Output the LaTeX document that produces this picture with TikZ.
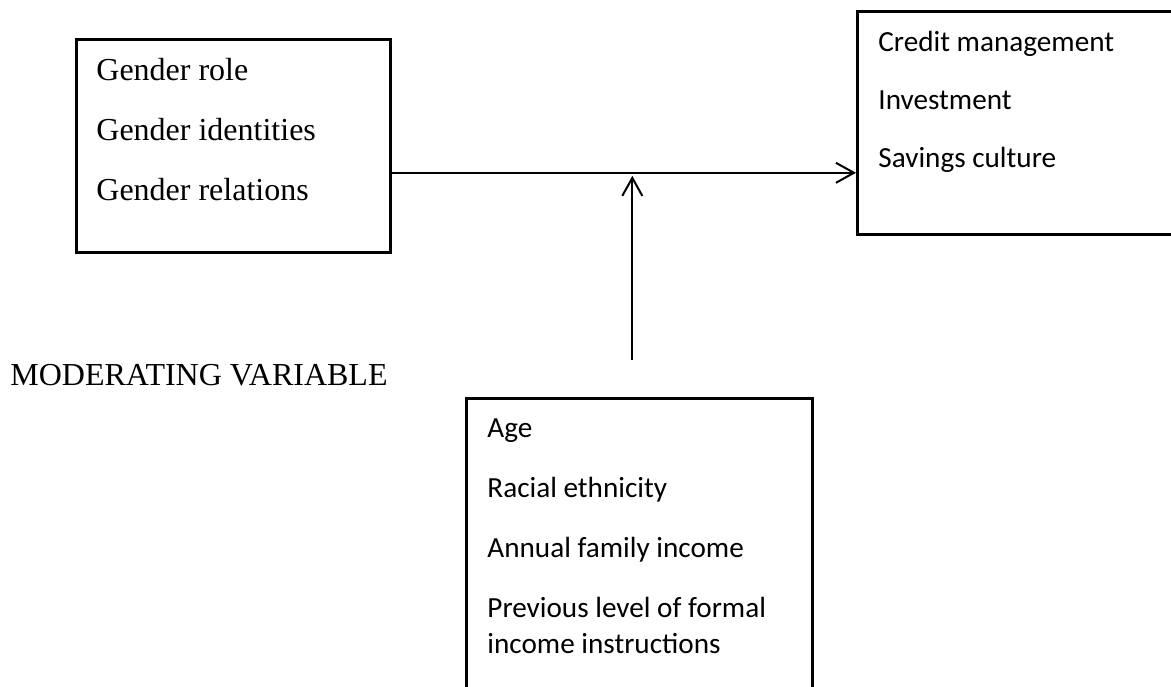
\documentclass[tikz,border=0pt]{standalone}
\usepackage{fontspec}
\setmainfont{Liberation Serif}
\newfontfamily\carlito{Carlito}
\usetikzlibrary{arrows.meta}

\tikzset{
  varbox/.style={draw, line width=1.3pt, anchor=north west, inner sep=0pt},
  varlist/.style={anchor=base west, align=left, inner sep=0pt},
  link/.style={line width=1pt, -{Straight Barb[length=9pt,width=10pt]}},
}

\begin{document}
\begin{tikzpicture}[x=0.5pt, y=-0.5pt]
  \useasboundingbox (0,0) rectangle (1171,686);
  \clip (0,0) rectangle (1171,686);
  % boxes
  \node[varbox, minimum width=157pt, minimum height=106.5pt] (gender) at (75,38) {};
  \node[varbox, minimum width=172pt, minimum height=111.5pt] (finance) at (856,10) {};
  \node[varbox, minimum width=173pt, minimum height=161.5pt] (moderator) at (465,397) {};
  % lists (base = last line)
  \node[varlist, font=\fontsize{16}{30}\selectfont] (gendertext)
    at ([shift={(21,162)}]gender.north west)
    {Gender role\\Gender identities\\Gender relations};
  \node[varlist, font=\carlito\fontsize{14.6}{29}\selectfont] (financetext)
    at ([shift={(22,157.4)}]finance.north west)
    {Credit management\\Investment\\Savings culture};
  \node[varlist, font=\carlito\fontsize{14.6}{18}\selectfont] (moderatortext)
    at ([shift={(22,256.5)}]moderator.north west)
    {Age\\[12pt]Racial ethnicity\\[12pt]Annual family income\\[12pt]Previous level of formal\\income instructions};
  \node[anchor=base west, inner sep=0pt, font=\fontsize{16}{19}\selectfont] (modlabel) at (10,385) {MODERATING VARIABLE};
  % arrows
  \draw[link] ([yshift=-13.5pt]gender.east) coordinate (src) -- (src -| finance.west);
  \draw[link, shorten >=1.5pt] ([xshift=-3.5pt, yshift=18.5pt]moderator.north) -- ([xshift=-3.5pt]moderator.north |- src);
\end{tikzpicture}
\end{document}
